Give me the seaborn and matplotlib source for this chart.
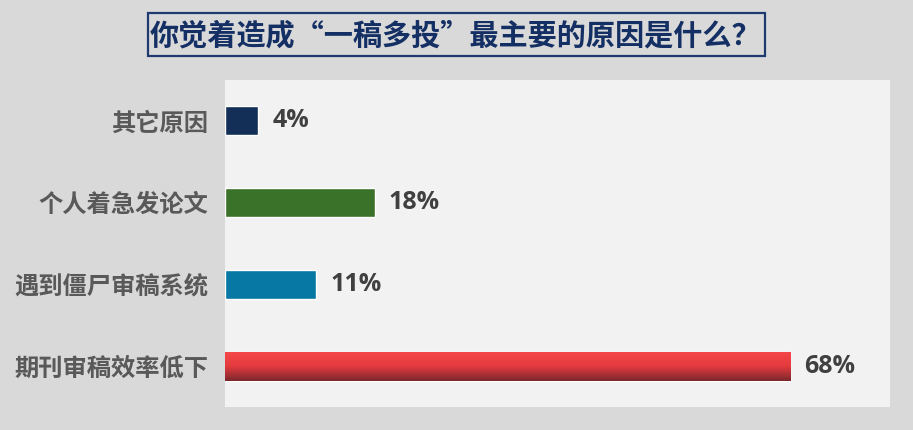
import numpy as np
import pandas as pd
import seaborn as sns
import matplotlib.pyplot as plt
from matplotlib.patches import Rectangle
from matplotlib.colors import LinearSegmentedColormap

reasons = ['其它原因', '个人着急发论文', '遇到僵尸审稿系统', '期刊审稿效率低下']
shares = [4, 18, 11, 68]
bar_colors = ['#132f57', '#3b7229', '#0777a4', '#f04446']
title = '你觉着造成“一稿多投”最主要的原因是什么？'

df = pd.DataFrame({'reason': reasons, 'share': shares})

sns.set_theme(style='white')
plt.rcParams['font.family'] = ['Noto Sans CJK SC', 'DejaVu Sans']

fig = plt.figure(figsize=(9.13, 4.30), dpi=100, facecolor='#d9d9d9')
ax = fig.add_axes([225 / 913, 23 / 430, 665 / 913, 327 / 430])
ax.set_facecolor('#f2f2f2')

sns.barplot(data=df, x='share', y='reason', hue='reason', palette=bar_colors,
            width=0.355, legend=False, saturation=1, ax=ax)

# red bar gets a top-to-bottom gradient
red = ax.patches[3]
x0, y0 = red.get_x(), red.get_y()
w, h = red.get_width(), red.get_height()
grad = LinearSegmentedColormap.from_list('g', ['#f5484b', '#e53a3e', '#7a282c'])
img = ax.imshow(np.linspace(0, 1, 100).reshape(-1, 1), cmap=grad, aspect='auto',
                extent=(x0, x0 + w, y0 + h, y0), zorder=red.get_zorder() + 0.1)
img.set_clip_path(red)

ax.set_xlim(0, 80)
ax.set_ylim(3.5, -0.5)
ax.set_xlabel('')
ax.set_ylabel('')
ax.set_xticks([])
for s in ax.spines.values():
    s.set_visible(False)
ax.tick_params(axis='y', length=0, pad=12)
for lab in ax.get_yticklabels():
    lab.set_fontsize(17.5)
    lab.set_fontweight('heavy')
    lab.set_color('#595959')

for i, v in enumerate(shares):
    ax.annotate(f'{v}%', xy=(v, i), xytext=(10, 0), textcoords='offset points',
                va='center', ha='left', fontsize=18, fontweight='bold',
                color='#404040', family=['Open Sans', 'DejaVu Sans'])

fig.patches.append(Rectangle((148 / 913, 374 / 430), 617 / 913, 43 / 430,
                             transform=fig.transFigure, facecolor='none',
                             edgecolor='#1f3a6e', linewidth=1.6))
fig.text(456 / 913, 395 / 430, title, ha='center', va='center', fontsize=21,
         fontweight='heavy', color='#142f63')

fig.savefig('out.png', dpi=100, facecolor=fig.get_facecolor())
